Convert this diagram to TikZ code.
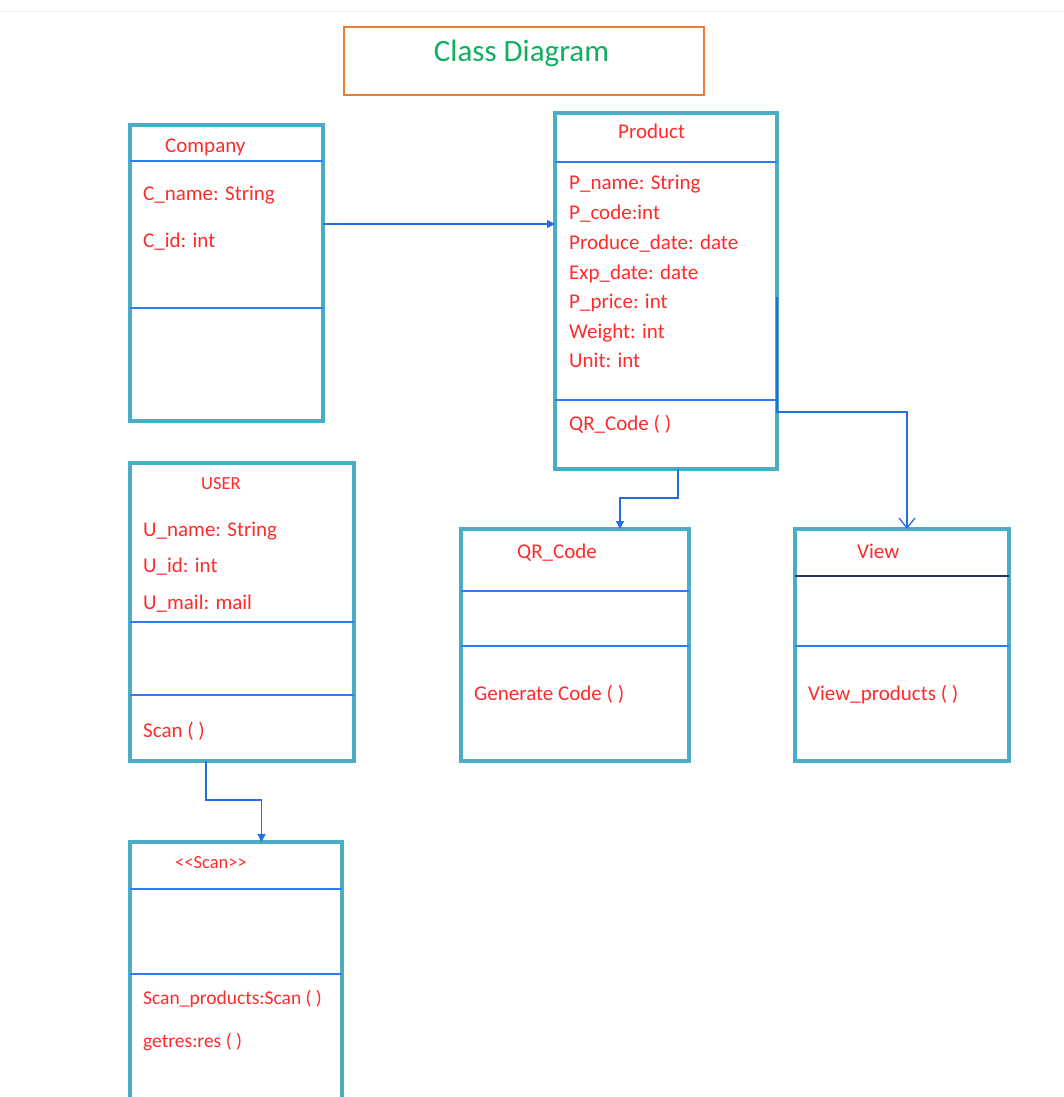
\documentclass[tikz,border=0pt]{standalone}
\usepackage{fontspec}
\setmainfont{Carlito}
\usetikzlibrary{arrows.meta}
\definecolor{BoxTeal}{HTML}{4BACC6}
\definecolor{RuleBlue}{HTML}{2F7CF6}
\definecolor{RuleNavy}{HTML}{1F3864}
\definecolor{LinkBlue}{HTML}{2270E0}
\definecolor{TextRed}{HTML}{FF2B2B}
\definecolor{TitleGreen}{HTML}{10B060}
\definecolor{TitleOrange}{HTML}{ED7D31}
\tikzset{
    % Class box outline
    classbox/.style={
        rectangle,
        draw=BoxTeal,
        fill=white,
        line width=3.5pt,
        anchor=north west,
        inner sep=0pt,
        outer sep=0pt
    },
    % Compartment rule
    rule/.style={
        draw=RuleBlue,
        line width=1.3pt
    },
    % Class name and members
    member/.style={
        anchor=base west,
        inner sep=0pt,
        text=TextRed,
        font=\fontsize{21}{25}\selectfont
    },
    % Smaller member text
    smallmember/.style={
        member,
        font=\fontsize{18.5}{22}\selectfont
    },
    % Filled arrow
    link/.style={
        draw=LinkBlue,
        line width=1.3pt,
        -{Triangle[length=8pt,width=8pt]}
    },
    % Open arrow
    openlink/.style={
        draw=LinkBlue,
        line width=1.3pt,
        -{Straight Barb[length=10pt,width=16pt]}
    }
}

\begin{document}
\begin{tikzpicture}[x=1pt, y=-1pt]
    \clip (0,0) rectangle (1064,1097);
    \fill[white] (0,0) rectangle (1064,1097);
    \draw[gray!12, line width=1pt] (0,12) -- (1064,12);

    % Title
    \node (titlebox) [rectangle, draw=TitleOrange, line width=1.8pt, anchor=north west,
        inner sep=0pt, minimum width=360pt, minimum height=68pt] at (343,26) {};
    \node (title) [anchor=base, inner sep=0pt, text=TitleGreen, font=\fontsize{31}{36}\selectfont]
        at (521.5,62) {Class Diagram};

    % Company
    \node (company) [classbox, minimum width=193pt, minimum height=296pt] at (130,125) {};
    \draw [rule] (company.west |- 0,161) -- (company.east |- 0,161);
    \draw [rule] (company.west |- 0,308) -- (company.east |- 0,308);
    \node (cname) [member] at (165,152) {Company};
    \node (c1) [member] at (143,200) {C\_name: String};
    \node (c2) [member] at (143,247) {C\_id: int};

    % Product
    \node (product) [classbox, minimum width=222pt, minimum height=356pt] at (555,113) {};
    \draw [rule] (product.west |- 0,162) -- (product.east |- 0,162);
    \draw [rule] (product.west |- 0,400) -- (product.east |- 0,400);
    \node (pname) [member] at (618,139) {Product};
    \node (p1) [member] at (569,189) {P\_name: String};
    \node (p2) [member] at (569,219) {P\_code:int};
    \node (p3) [member] at (569,249) {Produce\_date: date};
    \node (p4) [member] at (569,279) {Exp\_date: date};
    \node (p5) [member] at (569,308) {P\_price: int};
    \node (p6) [member] at (569,338) {Weight: int};
    \node (p7) [member] at (569,367) {Unit: int};
    \node (p8) [member] at (569,430) {QR\_Code ( )};

    % USER
    \node (user) [classbox, minimum width=224pt, minimum height=298pt] at (130,463) {};
    \draw [rule] (user.west |- 0,622) -- (user.east |- 0,622);
    \draw [rule] (user.west |- 0,695) -- (user.east |- 0,695);
    \node (uname) [smallmember] at (201,489) {USER};
    \node (u1) [member] at (143,536) {U\_name: String};
    \node (u2) [member] at (143,572) {U\_id: int};
    \node (u3) [member] at (143,609) {U\_mail: mail};
    \node (u4) [member] at (143,737) {Scan ( )};

    % QR_Code
    \node (qrcode) [classbox, minimum width=228pt, minimum height=232pt] at (461,529) {};
    \draw [rule] (qrcode.west |- 0,591) -- (qrcode.east |- 0,591);
    \draw [rule] (qrcode.west |- 0,646) -- (qrcode.east |- 0,646);
    \node (qname) [member] at (517,558) {QR\_Code};
    \node (q1) [member] at (474,700) {Generate Code ( )};

    % View
    \node (view) [classbox, minimum width=214pt, minimum height=232pt] at (795,529) {};
    \draw [rule, draw=RuleNavy] (view.west |- 0,576) -- (view.east |- 0,576);
    \draw [rule] (view.west |- 0,646) -- (view.east |- 0,646);
    \node (vname) [member] at (857,558) {View};
    \node (v1) [member] at (808,700) {View\_products ( )};

    % Scan
    \node (scan) [classbox, minimum width=212pt, minimum height=300pt] at (130,842) {};
    \draw [rule] (scan.west |- 0,889) -- (scan.east |- 0,889);
    \draw [rule] (scan.west |- 0,974) -- (scan.east |- 0,974);
    \node (sname) [smallmember] at (175,868) {<{}<Scan>{}>};
    \node (s1) [smallmember, font=\fontsize{19.5}{23}\selectfont] at (143,1004) {Scan\_products:Scan ( )};
    \node (s2) [smallmember, font=\fontsize{19.5}{23}\selectfont] at (143,1047) {getres:res ( )};

    % Connectors
    \draw [link] ([yshift=49pt]company.east) -- ([yshift=49pt]company.east -| product.west);
    \draw [link] ([xshift=12pt]product.south) -- ++(0,29) -| ([xshift=45pt]qrcode.north);
    \coordinate (vstart) at (777,297);
    \draw [openlink] (vstart) -- (vstart |- 0,412) -| ([xshift=5pt]view.north);
    \draw [link] ([xshift=-36pt]user.south) -- ++(0,39) -| ([xshift=25.5pt]scan.north);
\end{tikzpicture}
\end{document}
